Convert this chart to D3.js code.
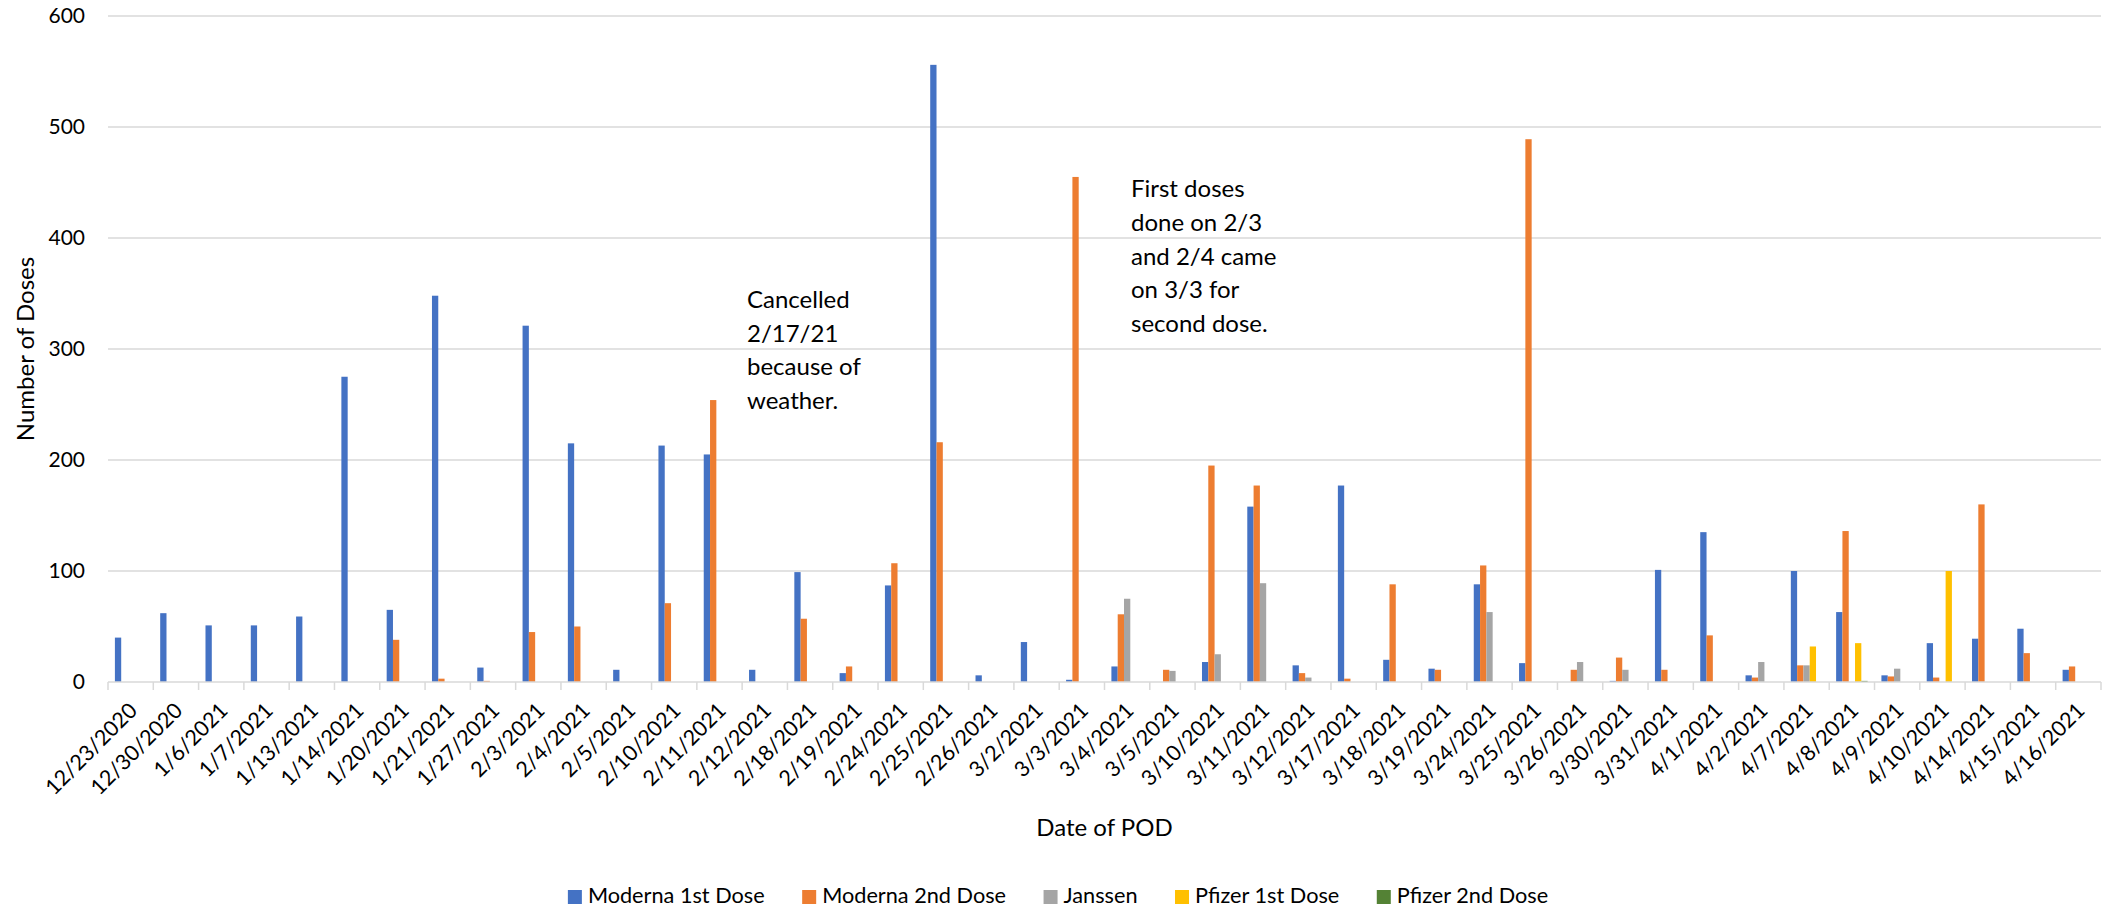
<!DOCTYPE html>
<html>
<head>
<meta charset="utf-8">
<script src="https://cdn.jsdelivr.net/npm/d3@7"></script>
<style>
  html, body { margin: 0; padding: 0; background: #fff; }
  svg { display: block; }
  text { font-family: Lato, "Open Sans", sans-serif; fill: #000; }
</style>
</head>
<body>
<script>
const categories = ["12/23/2020","12/30/2020","1/6/2021","1/7/2021","1/13/2021","1/14/2021","1/20/2021","1/21/2021","1/27/2021","2/3/2021","2/4/2021","2/5/2021","2/10/2021","2/11/2021","2/12/2021","2/18/2021","2/19/2021","2/24/2021","2/25/2021","2/26/2021","3/2/2021","3/3/2021","3/4/2021","3/5/2021","3/10/2021","3/11/2021","3/12/2021","3/17/2021","3/18/2021","3/19/2021","3/24/2021","3/25/2021","3/26/2021","3/30/2021","3/31/2021","4/1/2021","4/2/2021","4/7/2021","4/8/2021","4/9/2021","4/10/2021","4/14/2021","4/15/2021","4/16/2021"];

const seriesNames = ["Moderna 1st Dose","Moderna 2nd Dose","Janssen","Pfizer 1st Dose","Pfizer 2nd Dose"];
const seriesColors = ["#4472C4","#ED7D31","#A5A5A5","#FFC000","#548235"];

const moderna1 = [40,62,51,51,59,275,65,348,13,321,215,11,213,205,11,99,8,87,556,6,36,2,14,0,18,158,15,177,20,12,88,17,0,1,101,135,6,100,63,6,35,39,48,11];
const moderna2 = [0,0,0,0,0,0,38,3,1,45,50,0,71,254,0,57,14,107,216,0,0,455,61,11,195,177,8,3,88,11,105,489,11,22,11,42,4,15,136,5,4,160,26,14];
const janssen  = [0,0,0,0,0,0,0,0,0,0,0,0,0,0,0,0,0,0,0,0,0,0,75,10,25,89,4,0,0,0,63,0,18,11,0,0,18,15,0,12,0,0,0,0];
const pfizer1  = [0,0,0,0,0,0,0,0,0,0,0,0,0,0,0,0,0,0,0,0,0,0,0,0,0,0,0,0,0,0,0,0,0,0,0,0,0,32,35,0,100,0,0,0];
const pfizer2  = [0,0,0,0,0,0,0,0,0,0,0,0,0,0,0,0,0,0,0,0,0,0,0,0,0,0,0,0,0,0,0,0,0,0,0,0,0,0,1,0,0,0,0,0];

const yTicks = [0,100,200,300,400,500,600];
const xTitle = "Date of POD";
const yTitle = "Number of Doses";
const note1 = ["Cancelled","2/17/21","because of","weather."];
const note2 = ["First doses","done on 2/3","and 2/4 came","on 3/3 for","second dose."];

const seriesValues = [moderna1, moderna2, janssen, pfizer1, pfizer2];

const W = 2116, H = 909;
const M = {left: 108, right: 2116 - 2101, top: 16, bottom: H - 682};

const svg = d3.select("body").append("svg").attr("width", W).attr("height", H);

const x = d3.scaleBand().domain(categories).range([M.left, W - M.right]).padding(0);
const gapW = 2.19;
const xs = d3.scaleBand().domain(seriesNames).range([0, x.bandwidth()])
  .paddingInner(0).paddingOuter(gapW / 2);
const y = d3.scaleLinear().domain([0, 600]).range([H - M.bottom, M.top]);

// gridlines
svg.append("g").selectAll("line").data(yTicks.filter(d => d > 0)).join("line")
  .attr("x1", M.left).attr("x2", W - M.right)
  .attr("y1", d => y(d)).attr("y2", d => y(d))
  .attr("stroke", "#D9D9D9").attr("stroke-width", 1.5);

// y axis labels
const yAxis = d3.axisLeft(y).tickValues(yTicks).tickSize(0).tickPadding(23);
const gy = svg.append("g").attr("transform", `translate(${M.left},0)`).call(yAxis);
gy.select(".domain").remove();
gy.selectAll("text").attr("font-size", 21).attr("font-family", "Lato").attr("fill", "#000");

// bars
const rows = categories.map((c, i) => ({cat: c, vals: seriesNames.map((s, k) => ({s, k, v: seriesValues[k][i]}))}));
const groups = svg.append("g").selectAll("g").data(rows).join("g")
  .attr("transform", d => `translate(${x(d.cat)},0)`);
groups.selectAll("rect").data(d => d.vals.filter(e => e.v > 0)).join("rect")
  .attr("x", e => xs(e.s))
  .attr("width", xs.bandwidth())
  .attr("y", e => y(e.v))
  .attr("height", e => y(0) - y(e.v))
  .attr("fill", e => seriesColors[e.k]);

// x axis
const boundaries = categories.map(c => x(c)).concat([W - M.right]);
const gx = svg.append("g");
gx.append("line").attr("x1", M.left).attr("x2", W - M.right)
  .attr("y1", y(0)).attr("y2", y(0)).attr("stroke", "#D9D9D9").attr("stroke-width", 1.5);
gx.selectAll("line.tick").data(boundaries).join("line").attr("class", "tick")
  .attr("x1", d => d).attr("x2", d => d)
  .attr("y1", y(0)).attr("y2", y(0) + 8)
  .attr("stroke", "#D9D9D9").attr("stroke-width", 1.5);
gx.selectAll("text").data(categories).join("text")
  .attr("transform", d => `translate(${x(d) + x.bandwidth() / 2 + 4},${y(0) + 26}) rotate(-45)`)
  .attr("text-anchor", "end")
  .attr("dominant-baseline", "middle")
  .attr("font-size", 21.5)
  .text(d => d);

// axis titles
svg.append("text").attr("x", (M.left + W - M.right) / 2).attr("y", 836)
  .attr("text-anchor", "middle").attr("font-size", 24).text(xTitle);
svg.append("text").attr("transform", `translate(34,${(y(0) + y(600)) / 2}) rotate(-90)`)
  .attr("text-anchor", "middle").attr("font-size", 24).text(yTitle);

// annotations
const n1 = svg.append("text").attr("font-size", 24);
note1.forEach((t, i) => n1.append("tspan").attr("x", 747).attr("y", 308 + i * 33.5).text(t));
const n2 = svg.append("text").attr("font-size", 24);
note2.forEach((t, i) => n2.append("tspan").attr("x", 1131).attr("y", 197 + i * 33.8).text(t));

// legend
const lg = svg.append("g");
const items = lg.selectAll("g").data(seriesNames).join("g");
items.append("rect").attr("width", 14).attr("height", 14).attr("y", -7)
  .attr("fill", (d, i) => seriesColors[i]);
items.append("text").attr("x", 20).attr("dominant-baseline", "middle")
  .attr("font-size", 21.7).text(d => d);
let cx = 0;
const offs = [];
items.each(function(d) {
  offs.push(cx);
  const w = this.querySelector("text").getComputedTextLength();
  cx += 20 + w + 37.5;
});
const total = cx - 37.5;
const startX = W / 2 - total / 2;
items.attr("transform", (d, i) => `translate(${startX + offs[i]},897)`);
</script>
</body>
</html>
